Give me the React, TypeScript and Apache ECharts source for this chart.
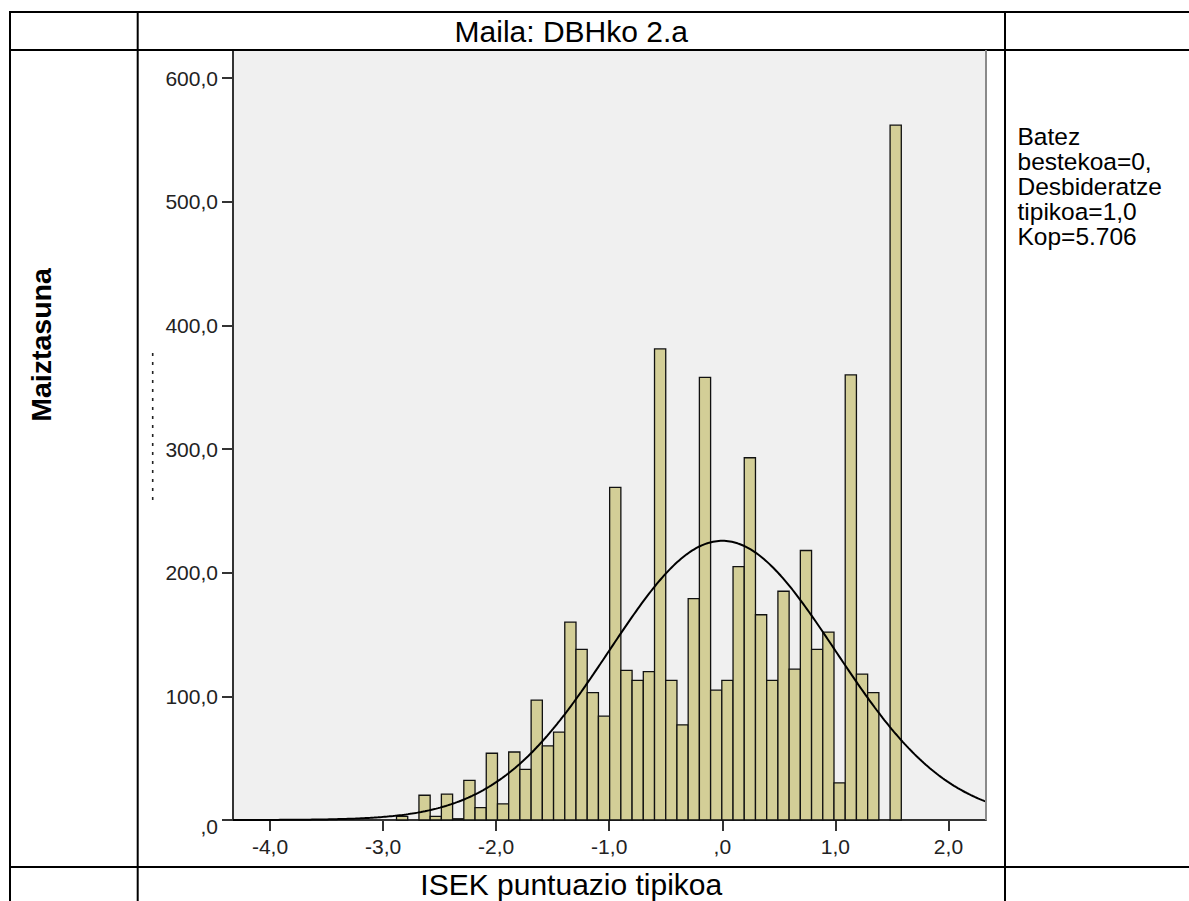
import React, { useEffect, useRef } from "react";
import * as echarts from "echarts";

// ---- data ----
const binStart = -2.881;
const binWidth = 0.0992;
const counts = [
  3, 0, 20, 3, 21, 1, 32, 10, 54, 13, 55, 41, 97, 60, 71, 160, 138, 103, 84, 269,
  121, 113, 120, 381, 113, 77, 179, 358, 105, 113, 205, 293, 166, 113, 185, 122, 218, 138, 152, 30,
  360, 118, 103, 0, 562,
];
const xTicks = [-4, -3, -2, -1, 0, 1, 2];
const yTicks = [0, 100, 200, 300, 400, 500, 600];
const xMin = -4.327;
const xMax = 2.332;
const yMax = 622.8;

// normal curve parameters shown in the legend text
const curveMean = 0;
const curveSd = 1;
const curveN = 5706;

const titleText = "Maila: DBHko 2.a";
const xTitle = "ISEK puntuazio tipikoa";
const yTitle = "Maiztasuna";
const statLines = ["Batez", "bestekoa=0,", "Desbideratze", "tipikoa=1,0", "Kop=5.706"];

const FONT = "'Liberation Sans', Arial, sans-serif";

function fmt(v: number): string {
  if (v === 0) return ",0";
  return v.toFixed(1).replace(".", ",");
}

export default function App() {
  const ref = useRef<HTMLDivElement>(null);
  useEffect(() => {
    const chart = echarts.init(ref.current!, null, { renderer: "svg" });

    const barData = counts.map((c, i) => [binStart + i * binWidth, binStart + (i + 1) * binWidth, c]);
    const curve: number[][] = [];
    const steps = 400;
    for (let i = 0; i <= steps; i++) {
      const x = xMin + ((xMax - xMin) * i) / steps;
      const z = (x - curveMean) / curveSd;
      const y = (curveN * binWidth * Math.exp(-0.5 * z * z)) / (curveSd * Math.sqrt(2 * Math.PI));
      curve.push([x, y]);
    }

    const gLine = (x1: number, y1: number, x2: number, y2: number, stroke = "#000", lineWidth = 2, lineDash?: number[]) => ({
      type: "line",
      shape: { x1, y1, x2, y2 },
      style: { stroke, lineWidth, lineDash },
      z: 100,
      silent: true,
    });

    const graphics: any[] = [
      // table lines
      gLine(10, 12, 1189, 12),
      gLine(10, 50, 1189, 50),
      gLine(10, 867, 1189, 867),
      gLine(10, 11, 10, 901),
      gLine(137.7, 12, 137.7, 901),
      gLine(1005, 12, 1005, 901),
      // plot right border
      gLine(986, 50, 986, 820, "#8a8a8a", 2),
      // stray dotted mark
      gLine(152.7, 353, 152.7, 503, "#222", 1.6, [3, 6]),
      {
        type: "text",
        x: 571.3,
        y: 31,
        style: { text: titleText, font: `30px ${FONT}`, fill: "#000", align: "center", verticalAlign: "middle" },
      },
      {
        type: "text",
        x: 571.3,
        y: 884,
        style: { text: xTitle, font: `30px ${FONT}`, fill: "#000", align: "center", verticalAlign: "middle" },
      },
      {
        type: "text",
        x: 41,
        y: 345,
        rotation: Math.PI / 2,
        style: { text: yTitle, font: `bold 28.5px ${FONT}`, fill: "#000", align: "center", verticalAlign: "middle" },
      },
      ...statLines.map((t, i) => ({
        type: "text",
        x: 1017.5,
        y: 136 + i * 25,
        style: { text: t, font: `24.5px ${FONT}`, fill: "#000", align: "left", verticalAlign: "middle" },
      })),
    ];

    chart.setOption({
      animation: false,
      grid: {
        left: 233,
        top: 50,
        width: 753,
        height: 770,
        show: true,
        backgroundColor: "#f0f0f0",
        borderWidth: 0,
      },
      xAxis: {
        type: "value",
        min: xMin,
        max: xMax,
        splitLine: { show: false },
        axisLine: { show: true, onZero: false, lineStyle: { color: "#333", width: 2 } },
        axisTick: { show: true, customValues: xTicks, length: 11, lineStyle: { color: "#333", width: 2 } },
        axisLabel: {
          customValues: xTicks,
          formatter: (v: number) => fmt(v),
          color: "#222",
          fontSize: 21,
          fontFamily: FONT,
          margin: 16,
        },
      },
      yAxis: {
        type: "value",
        min: 0,
        max: yMax,
        splitLine: { show: false },
        axisLine: { show: true, onZero: false, lineStyle: { color: "#333", width: 2 } },
        axisTick: { show: true, customValues: yTicks, length: 11, lineStyle: { color: "#333", width: 2 } },
        axisLabel: {
          customValues: yTicks,
          formatter: (v: number) => (v === 0 ? "{z|,0}" : fmt(v)),
          color: "#222",
          fontSize: 21,
          fontFamily: FONT,
          margin: 15,
          rich: { z: { fontSize: 21, fontFamily: FONT, color: "#222", padding: [12, 0, 0, 0] } },
        },
      },
      series: [
        {
          type: "custom",
          data: barData,
          encode: { x: [0, 1], y: 2 },
          renderItem: (params: any, api: any) => {
            const v = api.value(2);
            if (!v) return null;
            const p0 = api.coord([api.value(0), v]);
            const p1 = api.coord([api.value(1), 0]);
            return {
              type: "rect",
              shape: { x: p0[0], y: p0[1], width: p1[0] - p0[0], height: p1[1] - p0[1] },
              style: { fill: "#d3ce97", stroke: "#111", lineWidth: 1.3 },
            };
          },
          z: 2,
        },
        {
          type: "line",
          data: curve,
          showSymbol: false,
          smooth: false,
          lineStyle: { color: "#000", width: 2 },
          z: 3,
          silent: true,
        },
      ],
      graphic: graphics,
    });
    return () => chart.dispose();
  }, []);
  return <div ref={ref} style={{ position: "absolute", left: 0, top: 0, width: 1189, height: 901 }} />;
}
